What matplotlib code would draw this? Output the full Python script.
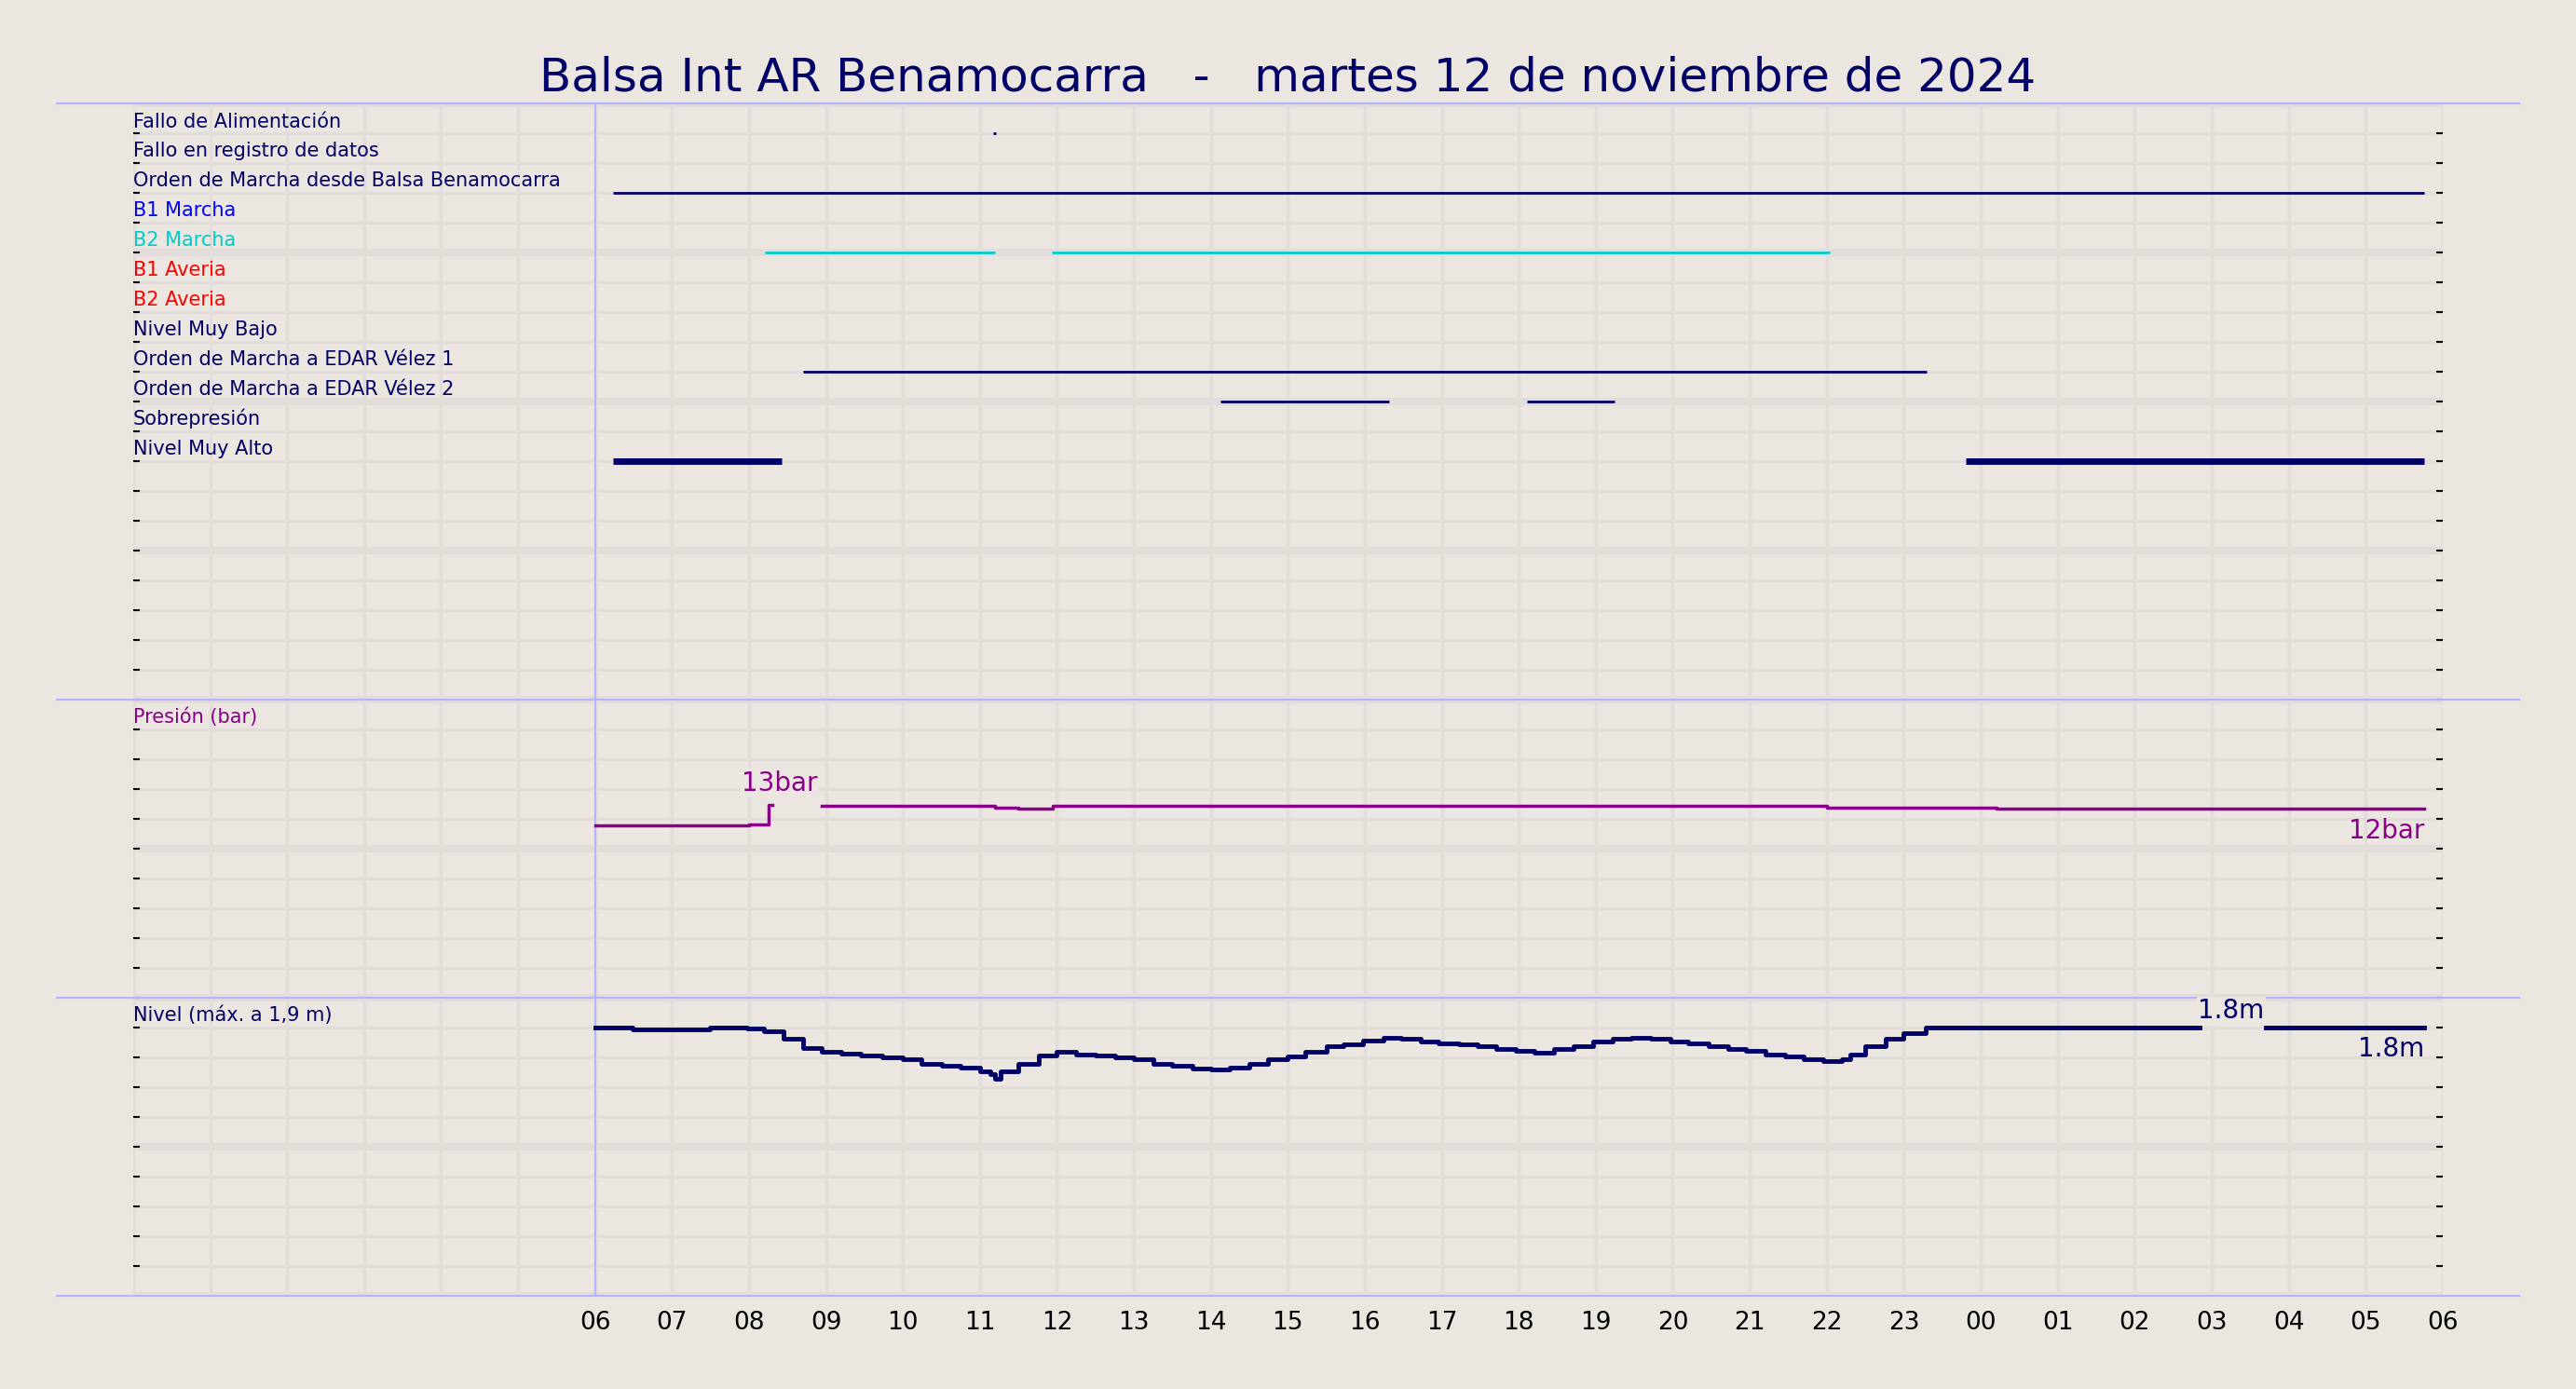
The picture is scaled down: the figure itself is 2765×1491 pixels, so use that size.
import matplotlib.pyplot as plt
import numpy as np
from matplotlib.transforms import blended_transform_factory

BG = "#ebe6e0"
NAVY = "#000066"

TITLE = "Balsa Int AR Benamocarra   -   martes 12 de noviembre de 2024"

# digital signals: label, colour, line width, spans in hours since 00:00 of day 12
SIGNAL_NAMES = [
    "Fallo de Alimentación",
    "Fallo en registro de datos",
    "Orden de Marcha desde Balsa Benamocarra",
    "B1 Marcha",
    "B2 Marcha",
    "B1 Averia",
    "B2 Averia",
    "Nivel Muy Bajo",
    "Orden de Marcha a EDAR Vélez 1",
    "Orden de Marcha a EDAR Vélez 2",
    "Sobrepresión",
    "Nivel Muy Alto",
]
SIGNAL_COLORS = [NAVY, NAVY, NAVY, "#0000ff", "#00cccc", "#ff0000", "#ff0000",
                 NAVY, NAVY, NAVY, NAVY, NAVY]
SIGNAL_WIDTHS = [2, 2, 2, 2, 2, 2, 2, 2, 2, 2, 2, 5]
SIGNAL_SPANS = [
    [(11.17, 11.21)],
    [],
    [(6.23, 29.76)],
    [],
    [(8.21, 11.2), (11.93, 22.04)],
    [],
    [],
    [],
    [(8.7, 23.3)],
    [(14.12, 16.32), (18.11, 19.24)],
    [],
    [(6.23, 8.43), (23.81, 29.76)],
]

# pressure (bar), step series
PRES_T = [6.0, 7.75, 8.0, 8.25, 8.3, 8.95, 10.0, 11.2, 11.5, 11.95, 15.0, 15.2,
          16.3, 16.5, 17.3, 17.8, 18.2, 19.0, 19.5, 19.8, 21.5, 21.8, 22.0, 23.0,
          23.5, 23.9, 24.2, 29.4, 29.76]
PRES_V = [11.52, 11.55, 11.58, 12.9, np.nan, 12.86, 12.84, 12.72, 12.70, 12.84,
          12.86, 12.84, 12.86, 12.85, 12.84, 12.85, 12.84, 12.85, 12.84, 12.85,
          12.86, 12.84, 12.74, 12.74, 12.72, 12.74, 12.70, 12.66, 12.66]

# level (m)
LEV_T = [6.0, 6.49, 7.49, 7.98, 8.2, 8.45, 8.7, 8.94, 9.2, 9.45, 9.73, 10.0, 10.24,
         10.5, 10.75, 11.0, 11.14, 11.2, 11.27, 11.5, 11.76, 12.0, 12.25, 12.5,
         12.76, 13.0, 13.25, 13.5, 13.76, 14.0, 14.25, 14.5, 14.74, 15.0, 15.23,
         15.5, 15.72, 15.98, 16.24, 16.47, 16.73, 16.96, 17.22, 17.47, 17.71,
         17.96, 18.2, 18.46, 18.71, 18.97, 19.22, 19.46, 19.71, 19.97, 20.2, 20.46,
         20.72, 20.95, 21.2, 21.46, 21.7, 21.95, 22.2, 22.3, 22.5, 22.77, 23.0,
         23.28, 26.8, 26.85, 27.7, 29.76]
LEV_V = [1.80, 1.79, 1.80, 1.795, 1.78, 1.74, 1.69, 1.67, 1.66, 1.65, 1.64, 1.63,
         1.61, 1.60, 1.59, 1.57, 1.555, 1.53, 1.57, 1.61, 1.65, 1.67, 1.655, 1.65,
         1.64, 1.63, 1.61, 1.60, 1.585, 1.58, 1.59, 1.61, 1.63, 1.645, 1.67, 1.70,
         1.71, 1.73, 1.745, 1.74, 1.725, 1.715, 1.71, 1.70, 1.685, 1.675, 1.665,
         1.685, 1.70, 1.725, 1.74, 1.745, 1.74, 1.725, 1.715, 1.70, 1.685, 1.675,
         1.655, 1.645, 1.63, 1.62, 1.63, 1.655, 1.70, 1.74, 1.77, 1.80, 1.80,
         np.nan, 1.80, 1.80]

HOUR_TICKS = list(range(6, 31))


def lev_to_y(v):
    return 9 + (np.asarray(v, dtype=float) - 1.8) * 6.4


def pres_to_y(v):
    return 10 + np.asarray(v, dtype=float) / 2


fig = plt.figure(figsize=(27.65, 14.91), dpi=100, facecolor=BG)
ax = fig.add_axes([0.0517, 0.0674, 0.8965, 0.8581])
ax.set_facecolor(BG)
ax.set_xlim(0, 30)
ax.set_ylim(0, 40)

# grid
for h in range(0, 31):
    ax.axvline(h, color="#e2dcda", lw=2.5, zorder=0)
for r in range(0, 41):
    ax.axhline(r, color="#e2dcda", lw=6 if r % 5 == 0 else 2.5, zorder=0)

# separators
tr = blended_transform_factory(ax.transAxes, ax.transData)
for r in (40, 20, 10, 0):
    ax.plot([-0.033, 1.033], [r, r], transform=tr, color="#b4b4ff", lw=1.5,
            clip_on=False, zorder=3)
ax.axvline(6, color="#b4b4ff", lw=1.5, zorder=3)

# digital signals
for i, name in enumerate(SIGNAL_NAMES):
    y = 40 - (i + 1)
    ax.text(0.0, y + 0.08, name, color=SIGNAL_COLORS[i], fontsize=15,
            ha="left", va="bottom")
    for s, e in SIGNAL_SPANS[i]:
        ax.plot([s, e], [y, y], color=SIGNAL_COLORS[i], lw=SIGNAL_WIDTHS[i],
                solid_capstyle="butt", zorder=4)

# pressure panel
PURPLE = "#880088"
ax.step(PRES_T, pres_to_y(PRES_V), where="post", color=PURPLE, lw=2.5, zorder=4)
ax.text(0.0, 19.08, "Presión (bar)", color=PURPLE, fontsize=15, ha="left", va="bottom")
ax.text(8.4, pres_to_y(12.9) + 0.3, "13bar", color=PURPLE, fontsize=20,
        ha="center", va="bottom", zorder=5,
        bbox=dict(facecolor=BG, edgecolor="none", pad=1))
ax.text(29.76, pres_to_y(PRES_V[-1]) - 0.3, "12bar", color=PURPLE, fontsize=20,
        ha="right", va="top")

# level panel
ax.step(LEV_T, lev_to_y(LEV_V), where="post", color=NAVY, lw=3.5, zorder=4)
ax.text(0.0, 9.08, "Nivel (máx. a 1,9 m)", color=NAVY, fontsize=15, ha="left", va="bottom")
ax.text(27.25, 9.1, "1.8m", color=NAVY, fontsize=20, ha="center", va="bottom",
        zorder=5, bbox=dict(facecolor=BG, edgecolor="none", pad=1))
ax.text(29.76, 8.7, "1.8m", color=NAVY, fontsize=20, ha="right", va="top")

# axes styling
for sp in ax.spines.values():
    sp.set_visible(False)
ax.set_xticks(HOUR_TICKS)
ax.set_xticklabels([f"{h % 24:02d}" for h in HOUR_TICKS], fontsize=19)
ax.tick_params(axis="x", length=0, pad=12)
ax.set_yticks(range(1, 40))
ax.set_yticklabels([])
ax.tick_params(axis="y", left=True, right=True, direction="in", length=5, width=1.5)

fig.suptitle(TITLE, color=NAVY, fontsize=36, y=0.96)

fig.savefig("out.png", facecolor=BG)
